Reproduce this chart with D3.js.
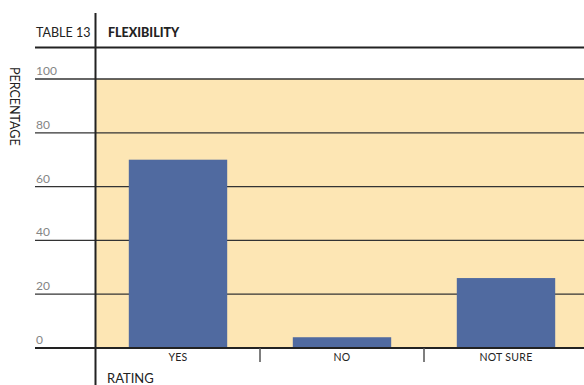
<!DOCTYPE html>
<html>
<head>
<meta charset="utf-8">
<script src="https://cdn.jsdelivr.net/npm/d3@7"></script>
<style>
  html, body { margin: 0; padding: 0; background: #fff; }
  svg { display: block; font-family: Lato, "Open Sans", sans-serif; }
</style>
</head>
<body>
<svg id="chart" width="584" height="385"></svg>
<script>
// Survey result: is the arrangement flexible?
const categories = ["YES", "NO", "NOT SURE"];
const percentages = [70, 4, 26];
const yTicks = [0, 20, 40, 60, 80, 100];

const W = 584, H = 385;
const plot = { left: 96, right: 588, top: 79, bottom: 348 };

const svg = d3.select("#chart");

const x = d3.scaleBand()
  .domain(categories)
  .range([plot.left, plot.right])
  .paddingInner(0.4)
  .paddingOuter(0.2);

const y = d3.scaleLinear()
  .domain([0, 100])
  .range([plot.bottom, plot.top]);

// plot background
svg.append("rect")
  .attr("x", plot.left).attr("y", y(100))
  .attr("width", W - plot.left).attr("height", y(0) - y(100))
  .attr("fill", "#fde6b4");

// horizontal grid lines with value labels
const grid = svg.append("g");
grid.selectAll("line")
  .data(yTicks)
  .join("line")
  .attr("x1", 35).attr("x2", W)
  .attr("y1", d => y(d)).attr("y2", d => y(d))
  .attr("stroke", "#333")
  .attr("stroke-width", d => d === 0 ? 2 : 1.3);
grid.selectAll("text")
  .data(yTicks)
  .join("text")
  .attr("x", 36)
  .attr("y", d => y(d) - 4)
  .attr("fill", "#858585")
  .attr("font-size", 12)
  .attr("font-weight", 400)
  .text(d => d);

// bars
svg.append("g").selectAll("rect")
  .data(categories)
  .join("rect")
  .attr("x", d => x(d))
  .attr("width", x.bandwidth())
  .attr("y", (d, i) => y(percentages[i]))
  .attr("height", (d, i) => y(0) - y(percentages[i]))
  .attr("fill", "#506aa0");

// redraw the zero line over the bars
svg.append("line")
  .attr("x1", 35).attr("x2", W)
  .attr("y1", y(0)).attr("y2", y(0))
  .attr("stroke", "#222").attr("stroke-width", 2);

// category separators
const gap = x.step() - x.bandwidth();
svg.append("g").selectAll("line")
  .data(categories.slice(1))
  .join("line")
  .attr("x1", d => x(d) - gap / 2).attr("x2", d => x(d) - gap / 2)
  .attr("y1", y(0)).attr("y2", y(0) + 14)
  .attr("stroke", "#555").attr("stroke-width", 1.5);

// category labels
svg.append("g").selectAll("text")
  .data(categories)
  .join("text")
  .attr("x", d => x(d) + x.bandwidth() / 2)
  .attr("y", 361)
  .attr("text-anchor", "middle")
  .attr("font-size", 10.5)
  .attr("fill", "#222")
  .attr("letter-spacing", 0.3)
  .text(d => d);

// title rule and frame
svg.append("line")
  .attr("x1", 35).attr("x2", W)
  .attr("y1", 47.5).attr("y2", 47.5)
  .attr("stroke", "#222").attr("stroke-width", 2);
svg.append("line")
  .attr("x1", 95.5).attr("x2", 95.5)
  .attr("y1", 13).attr("y2", H)
  .attr("stroke", "#222").attr("stroke-width", 2);

// titles
svg.append("text")
  .attr("x", 36).attr("y", 37)
  .attr("font-size", 12.5).attr("fill", "#222")
  .text("TABLE 13");
svg.append("text")
  .attr("x", 108).attr("y", 37)
  .attr("font-size", 12.5).attr("font-weight", 900).attr("fill", "#222")
  .text("FLEXIBILITY");

// axis titles
svg.append("text")
  .attr("transform", "translate(10,67) rotate(90)")
  .attr("font-size", 12.5).attr("fill", "#222")
  .text("PERCENTAGE");
svg.append("text")
  .attr("x", 107).attr("y", 383)
  .attr("font-size", 13).attr("fill", "#222")
  .text("RATING");
</script>
</body>
</html>
